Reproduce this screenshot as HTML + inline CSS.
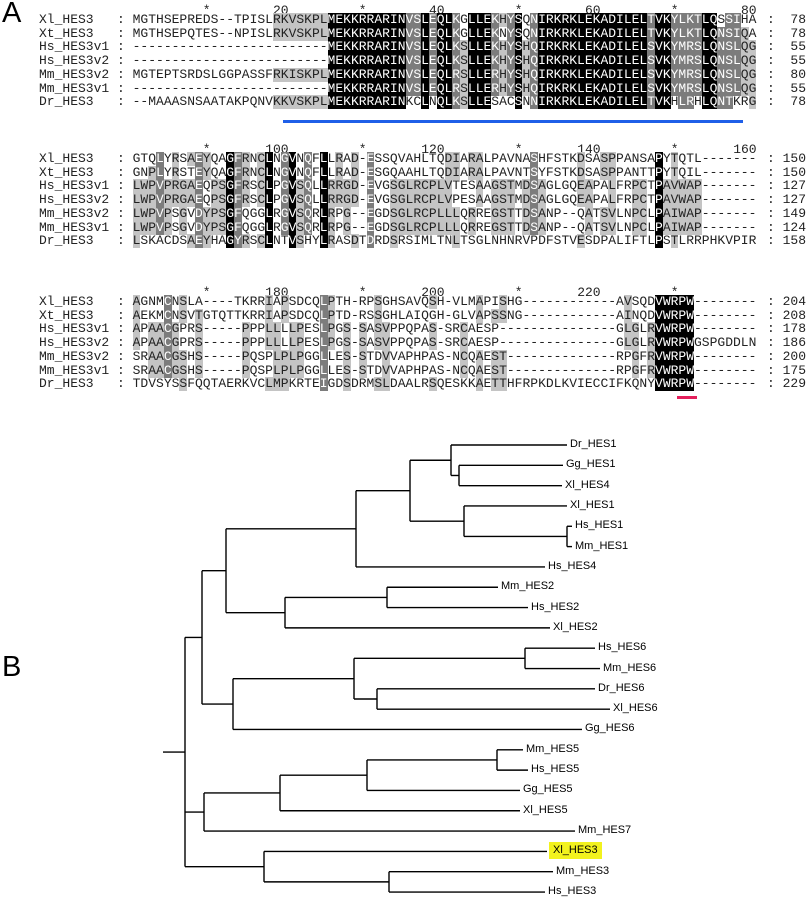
<!DOCTYPE html>
<html><head><meta charset="utf-8">
<style>
body{margin:0;background:#fff;}
#wrap{position:relative;width:809px;height:899px;overflow:hidden;background:#fff;}
.row{position:absolute;left:39px;font-family:"Liberation Mono",monospace;font-size:13px;line-height:14px;height:14px;white-space:pre;color:#222;}
.row span{display:inline-block;width:7.8px;text-align:center;}
.lbl{position:absolute;font-family:"Liberation Mono",monospace;font-size:13px;line-height:14px;white-space:pre;color:#222;}
.big{position:absolute;font-family:"Liberation Sans",sans-serif;font-size:29px;color:#000;}
.leaf{position:absolute;font-family:"Liberation Sans",sans-serif;font-size:11px;line-height:13px;color:#000;white-space:pre;}
</style></head>
<body>
<div id="wrap">
<div class="big" style="left:2px;top:-3px">A</div>
<div class="big" style="left:2px;top:651px">B</div>
<div style="position:absolute;left:283px;top:120px;width:460px;height:3px;background:#1f5fe8"></div>
<div style="position:absolute;left:677px;top:396px;width:20px;height:3px;background:#e4205c"></div>
<div id="align"></div>
<svg id="tree" width="809" height="899" style="position:absolute;left:0;top:0"></svg>
</div>
<script>
const names=["Xl_HES3","Xt_HES3","Hs_HES3v1","Hs_HES3v2","Mm_HES3v2","Mm_HES3v1","Dr_HES3"];
const block1=[
"MGTHSEPREDS--TPISLRKVSKPLMEKKRRARINVSLEQLKGLLEKHYSQNIRKRKLEKADILELTVKYLKTLQSSIHA",
"MGTHSEPQTES--NPISLRKVSKPLMEKKRRARINVSLEQLKGLLEKNYSQNIRKRKLEKADILELTVKYLKTLQNSIQA",
"-------------------------MEKKRRARINVSLEQLKSLLEKHYSHQIRKRKLEKADILELSVKYMRSLQNSLQG",
"-------------------------MEKKRRARINVSLEQLKSLLEKHYSHQIRKRKLEKADILELSVKYMRSLQNSLQG",
"MGTEPTSRDSLGGPASSFRKISKPLMEKKRRARINVSLEQLRSLLERHYSHQIRKRKLEKADILELSVKYMRSLQNSLQG",
"-------------------------MEKKRRARINVSLEQLRSLLERHYSHQIRKRKLEKADILELSVKYMRSLQNSLQG",
"--MAAASNSAATAKPQNVKKVSKPLMEKKRRARINKCLNQLKSLLESACSNNIRKRKLEKADILELTVKHLRHLQNTKRG"];
const block2=[
"GTQLYRSAEYQAGFRNCLNGVNQFLLRAD-ESSQVAHLTQDIARALPAVNASHFSTKDSASPPANSAPYTQTL-------",
"GNPLYRSTEYQAGFRNCLNGVNQFLLRAD-ESGQAAHLTQDIARALPAVNTSYFSTKDSASPPANTTPYTQIL-------",
"LWPVPRGAEQPSGFRSCLPGVSQLLRRGD-EVGSGLRCPLVTESAAGSTMDSAGLGQEAPALFRPCTPAVWAP-------",
"LWPVPRGAEQPSGFRSCLPGVSQLLRRGD-EVGSGLRCPLVPESAAGSTMDSAGLGQEAPALFRPCTPAVWAP-------",
"LWPVPSGVDYPSGFQGGLRGVSQRLRPG--EGDSGLRCPLLLQRREGSTTDSANP--QATSVLNPCLPAIWAP-------",
"LWPVPSGVDYPSGFQGGLRGVSQRLRPG--EGDSGLRCPLLLQRREGSTTDSANP--QATSVLNPCLPAIWAP-------",
"LSKACDSAEYHAGYRSCLNTVSHYLRASDTDRDSRSIMLTNLTSGLNHNRVPDFSTVESDPALIFTLPSTLRRPHKVPIR"];
const block3=[
"AGNMCNSLA----TKRRIAPSDCQLPTH-RPSGHSAVQSH-VLMAPISHG------------AVSQDVWRPW--------",
"AEKMCNSVTGTQTTKRRIAPSDCQLPTD-RSSGHLAIQGH-GLVAPSSNG------------AINQDVWRPW--------",
"APAACGPRS-----PPPLLLLPESLPGS-SASVPPQPAS-SRCAESP---------------GLGLRVWRPW--------",
"APAACGPRS-----PPPLLLLPESLPGS-SASVPPQPAS-SRCAESP---------------GLGLRVWRPWGSPGDDLN",
"SRAACGSHS-----PQSPLPLPGGLLES-STDVVAPHPAS-NCQAEST--------------RPGFRVWRPW--------",
"SRAACGSHS-----PQSPLPLPGGLLES-STDVVAPHPAS-NCQAEST--------------RPGFRVWRPW--------",
"TDVSYSSFQQTAERKVCLMPKRTEIGDSDRMSLDAALRSQESKKAETTHFRPKDLKVIECCIFKQNYVWRPW--------"];
const ends1=[78,78,55,55,80,55,78];
const ends2=[150,150,127,127,149,124,158];
const ends3=[204,208,178,186,200,175,229];
const ticks1=["*","20","*","40","*","60","*","80"];
const ticks2=["*","100","*","120","*","140","*","160"];
const ticks3=["*","180","*","200","*","220","*"];

const CW=7.8, SX=132.6, RH=13.7;
const groups=["KR","DE","ILVM","ST","FYW","NQ"];
const align=document.getElementById('align');
function drawBlock(seqs,ends,ticks,top,bi){
  const tl=document.createElement('div');
  tl.className='lbl';
  tl.style.top=(top-16)+'px';tl.style.left='0px';tl.style.width='809px';tl.style.height='14px';
  
  
  ticks.forEach((t,i)=>{
    const s=document.createElement('div');
    
    
    s.textContent=t;
    const colEnd=SX+(i+1)*10*CW;
    s.style.position='absolute';
    if(t==='*'){s.style.left=(colEnd-CW)+'px';s.style.width=CW+'px';s.style.textAlign='center';}
    else{s.style.left=(colEnd-40)+'px';s.style.width='40px';s.style.textAlign='right';}
    tl.appendChild(s);
  });
  align.appendChild(tl);
  // conservation
  const shade=[];
  for(let r=0;r<7;r++)shade.push([]);
  for(let c=0;c<80;c++){
    const col=seqs.map(s=>s[c]||'-');
    const cnt={};col.forEach(a=>{if(a!=='-')cnt[a]=(cnt[a]||0)+1;});
    let top1='',idc=0;for(const k in cnt)if(cnt[k]>idc){idc=cnt[k];top1=k;}
    let best=top1,sc=idc;
    groups.forEach(g=>{let n=col.filter(a=>g.includes(a)).length;if(n>sc){sc=n;best=g;}});
    for(let r=0;r<7;r++){
      const a=col[r];let cls='';
      if(a!=='-'&&(a===top1||(best.length>1&&best.includes(a)))){
        if(idc===7)cls='k';else if(sc>=6)cls='d';else if(sc>=4)cls='l';
      }
      shade[r].push(cls);
    }
  }
  seqs.forEach((s,r)=>{
    const row=document.createElement('div');
    row.className='row';
    row.style.top=(top+r*RH-7)+'px';
    
    
    let h=names[r].padEnd(10,' ')+': ';
    h=h.replace(/ /g,'&nbsp;');
    let html='<span style="width:auto;display:inline">'+names[r].padEnd(10,' ')+': </span>';
    for(let c=0;c<80;c++){
      const cl=shade[r][c];
      let st='';
      if(cl==='k')st='background:#000;color:#fff';
      else if(cl==='d')st='background:#7c7c7c;color:#fff';
      else if(cl==='l')st='background:#c4c4c4;color:#222';
      html+='<span style="'+st+'">'+(s[c]||'-')+'</span>';
    }
    row.innerHTML=html;
    align.appendChild(row);
    const e=document.createElement('div');
    e.className='lbl';
    
    
    e.style.left='764px';e.style.width='42px';e.style.top=(top+r*RH-7)+'px';
    e.innerHTML='<span style="position:absolute;left:3px">:</span><span style="position:absolute;right:0">'+ends[r]+'</span>';
    align.appendChild(e);
  });
}
drawBlock(block1,ends1,ticks1,20,1);
drawBlock(block2,ends2,ticks2,159,2);
drawBlock(block3,ends3,ticks3,302,3);

// ---- tree ----
const leafNames=["Dr_HES1","Gg_HES1","Xl_HES4","Xl_HES1","Hs_HES1","Mm_HES1","Hs_HES4","Mm_HES2","Hs_HES2","Xl_HES2","Hs_HES6","Mm_HES6","Dr_HES6","Xl_HES6","Gg_HES6","Mm_HES5","Hs_HES5","Gg_HES5","Xl_HES5","Mm_HES7","Xl_HES3","Mm_HES3","Hs_HES3"];
const leafX=[567,563,562,567,572,572,545,498,528,550,595,600,595,610,582,523,528,520,520,575,547,553,545];
const nodeX={root:185,a:202,b:226,c:356,d:410,e:451,f:459,g:464,h:567,i:285,j:387,k:233,l:354,m:525,n:377,o:204,p:280,q:367,r:497,s:264,t:389};
const treeSpec={n:'root',c:[
 {n:'a',c:[{n:'b',c:[{n:'c',c:[{n:'d',c:[{n:'e',c:[0,{n:'f',c:[1,2]}]},{n:'g',c:[3,{n:'h',c:[4,5]}]}]},6]},{n:'i',c:[{n:'j',c:[7,8]},9]}]},
   {n:'k',c:[{n:'l',c:[{n:'m',c:[10,11]},{n:'n',c:[12,13]}]},14]}]},
 {n:'o',c:[{n:'p',c:[{n:'q',c:[{n:'r',c:[15,16]},17]},18]},19]},
 {n:'s',c:[20,{n:'t',c:[21,22]}]}]};
const svg=document.getElementById('tree');
const NS='http://www.w3.org/2000/svg';
const yOf=i=>445+i*20.32;
function line(x1,y1,x2,y2,name){
  const l=document.createElementNS(NS,'line');
  l.setAttribute('x1',x1);l.setAttribute('y1',y1);l.setAttribute('x2',x2);l.setAttribute('y2',y2);
  l.setAttribute('stroke','#000');l.setAttribute('stroke-width','1.4');
  
  
  svg.appendChild(l);
}
function layout(node,px){
  if(typeof node==='number'){
    const y=yOf(node);
    line(px,y,leafX[node],y,'branch-'+leafNames[node].toLowerCase());
    const t=document.createElement('div');
    t.className='leaf';
    
    
    t.textContent=leafNames[node];
    t.style.left=(leafX[node]+3)+'px';t.style.top=(y-7)+'px';
    if(leafNames[node]==='Xl_HES3'){t.style.background='#f2f21e';t.style.padding='2px 4px';t.style.left=(leafX[node]+2)+'px';t.style.top=(y-9)+'px';}
    document.getElementById('wrap').appendChild(t);
    return y;
  }
  const x=nodeX[node.n];
  const ys=node.c.map(ch=>layout(ch,x));
  const y1=ys[0],y2=ys[ys.length-1];
  line(x,y1,x,y2,'node-'+node.n+'-vertical');
  const ym=(y1+y2)/2;
  if(px!==null)line(px,ym,x,ym,'node-'+node.n+'-stem');
  return ym;
}
const ry=layout(treeSpec,null);
line(163,ry,nodeX.root,ry,'root-stem');
</script>
</body></html>
